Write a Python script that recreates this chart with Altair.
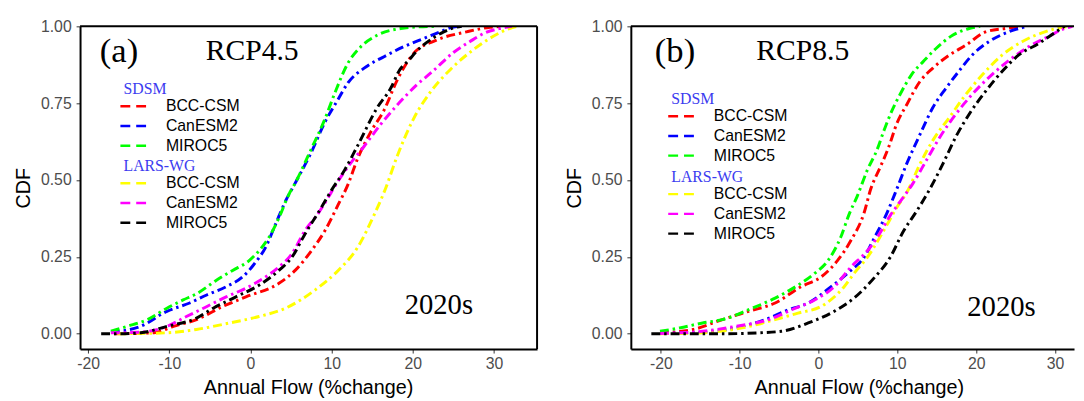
import altair as alt
import pandas as pd

MODELS = ["BCC-CSM", "CanESM2", "MIROC5"]
COLORS_SDSM = ["#FF0000", "#0000FF", "#00FF00"]
COLORS_LARS = ["#FFFF00", "#FF00FF", "#000000"]
X_TICKS = [-20, -10, 0, 10, 20, 30]
Y_TICKS = [0, 0.25, 0.5, 0.75, 1.0]

# ---------------- Panel (a) RCP4.5 ----------------
A_SDSM_BCC_X = [-16.8, -11.9, -9.5, -6.65, -3.4, -0.57, 3.5, 5.5, 7.5, 9.16, 10.8, 12.0, 13.2, 14.8, 16.5, 18.1, 20.1, 22.9, 26.6, 29.5, 31.0]
A_SDSM_BCC_Y = [0.0, 0.003, 0.024, 0.046, 0.089, 0.12, 0.164, 0.206, 0.27, 0.335, 0.42, 0.485, 0.57, 0.656, 0.73, 0.827, 0.912, 0.955, 0.982, 0.997, 1.0]
A_SDSM_CAN_X = [-17.2, -13.55, -10.3, -7.5, -5.4, -3.0, -0.97, 0.64, 1.86, 3.08, 4.3, 5.3, 7.5, 9.16, 10.8, 12.0, 14.0, 16.5, 18.9, 21.3, 22.9, 25.0, 26.0]
A_SDSM_CAN_Y = [0.005, 0.024, 0.073, 0.1, 0.126, 0.153, 0.185, 0.233, 0.281, 0.356, 0.431, 0.48, 0.591, 0.688, 0.763, 0.816, 0.864, 0.902, 0.934, 0.96, 0.977, 0.998, 1.0]
A_SDSM_MIR_X = [-17.2, -15.2, -12.7, -10.3, -8.3, -6.65, -4.2, -2.2, -0.17, 1.05, 2.26, 3.5, 4.7, 5.5, 7.5, 9.16, 10.4, 12.0, 13.6, 15.6, 18.5, 20.5, 23.0]
A_SDSM_MIR_Y = [0.008, 0.024, 0.046, 0.083, 0.11, 0.13, 0.174, 0.206, 0.238, 0.27, 0.313, 0.377, 0.452, 0.49, 0.602, 0.698, 0.784, 0.88, 0.934, 0.971, 0.993, 0.998, 1.0]
A_LARS_BCC_X = [-16.4, -10.3, -6.65, -2.6, 1.05, 4.3, 7.94, 10.8, 13.2, 15.2, 16.6, 18.1, 20.1, 22.1, 24.6, 27.4, 29.8, 31.9, 32.8]
A_LARS_BCC_Y = [0.0, 0.003, 0.014, 0.035, 0.056, 0.083, 0.142, 0.206, 0.281, 0.385, 0.47, 0.58, 0.70, 0.784, 0.859, 0.923, 0.966, 0.993, 1.0]
A_LARS_CAN_X = [-17.2, -13.55, -10.3, -7.9, -5.8, -3.0, -0.57, 1.86, 3.5, 5.1, 6.7, 8.3, 9.5, 10.4, 12.2, 14.0, 16.0, 18.1, 20.5, 22.5, 25.0, 27.0, 29.0, 30.7, 32.2]
A_LARS_CAN_Y = [0.003, 0.005, 0.024, 0.056, 0.083, 0.12, 0.148, 0.185, 0.217, 0.26, 0.335, 0.39, 0.44, 0.48, 0.55, 0.61, 0.68, 0.745, 0.81, 0.855, 0.915, 0.95, 0.98, 0.993, 1.0]
A_LARS_MIR_X = [-18.4, -16.4, -13.55, -10.3, -6.65, -4.6, -1.8, 1.05, 3.5, 5.1, 6.7, 8.6, 10.0, 11.6, 13.2, 15.6, 17.3, 18.3, 19.5, 20.5, 22.1, 23.8, 25.0, 26.0]
A_LARS_MIR_Y = [0.0, 0.0, 0.003, 0.024, 0.051, 0.083, 0.12, 0.158, 0.206, 0.249, 0.324, 0.405, 0.468, 0.533, 0.612, 0.735, 0.8, 0.855, 0.89, 0.92, 0.955, 0.982, 0.995, 1.0]

# ---------------- Panel (b) RCP8.5 ----------------
B_SDSM_BCC_X = [-20.1, -15.9, -12.2, -8.85, -5.5, -2.2, 0.34, 2.4, 4.1, 5.8, 6.6, 7.85, 8.9, 9.9, 11.2, 12.9, 14.5, 16.6, 18.7, 21.2, 23.7, 25.5]
B_SDSM_BCC_Y = [0.003, 0.014, 0.046, 0.073, 0.1, 0.153, 0.185, 0.238, 0.303, 0.395, 0.469, 0.543, 0.607, 0.682, 0.746, 0.822, 0.864, 0.907, 0.939, 0.982, 0.993, 1.0]
B_SDSM_CAN_X = [-20.1, -14.7, -10.5, -6.76, -3.8, -1.3, 1.6, 4.1, 5.8, 7.0, 8.7, 9.9, 11.2, 12.9, 14.5, 16.2, 17.8, 19.5, 21.6, 24.1, 25.7, 26.5]
B_SDSM_CAN_Y = [0.001, 0.005, 0.019, 0.046, 0.078, 0.1, 0.153, 0.206, 0.249, 0.308, 0.394, 0.469, 0.554, 0.65, 0.736, 0.8, 0.854, 0.907, 0.95, 0.982, 0.995, 1.0]
B_SDSM_MIR_X = [-20.1, -17.6, -14.7, -12.2, -8.4, -5.5, -2.6, -0.5, 1.2, 2.8, 3.9, 4.9, 6.2, 7.4, 8.3, 9.3, 10.35, 11.8, 13.3, 14.9, 17.0, 19.1, 20.5]
B_SDSM_MIR_Y = [0.008, 0.019, 0.035, 0.046, 0.083, 0.116, 0.158, 0.196, 0.238, 0.313, 0.39, 0.447, 0.533, 0.597, 0.661, 0.725, 0.779, 0.843, 0.886, 0.928, 0.971, 0.993, 1.0]
B_LARS_BCC_X = [-20.1, -14.7, -9.7, -5.5, -2.6, 0.34, 3.25, 4.5, 6.2, 8.7, 9.9, 11.2, 12.9, 14.5, 16.6, 18.7, 20.8, 23.3, 25.8, 28.7, 31.2, 32.0]
B_LARS_BCC_Y = [0.0, 0.003, 0.019, 0.046, 0.067, 0.089, 0.153, 0.196, 0.249, 0.355, 0.41, 0.46, 0.554, 0.629, 0.704, 0.779, 0.843, 0.907, 0.95, 0.982, 0.998, 1.0]
B_LARS_CAN_X = [-20.1, -14.7, -10.5, -6.3, -3.4, -0.5, 2.0, 4.1, 6.2, 7.6, 9.1, 10.35, 12.0, 13.7, 15.4, 17.4, 19.5, 22.0, 24.5, 27.0, 29.1, 31.2, 32.2]
B_LARS_CAN_Y = [0.001, 0.008, 0.024, 0.046, 0.078, 0.11, 0.153, 0.217, 0.27, 0.32, 0.385, 0.43, 0.49, 0.565, 0.64, 0.714, 0.779, 0.843, 0.896, 0.939, 0.966, 0.993, 1.0]
B_LARS_MIR_X = [-21.2, -17.6, -11.8, -7.6, -4.7, -1.3, 2.0, 4.5, 7.0, 9.1, 10.8, 12.4, 14.1, 15.8, 17.4, 19.1, 21.2, 23.3, 25.4, 27.9, 30.4, 31.2]
B_LARS_MIR_Y = [0.0, 0.0, 0.0, 0.003, 0.008, 0.035, 0.073, 0.116, 0.18, 0.249, 0.335, 0.397, 0.47, 0.554, 0.64, 0.714, 0.789, 0.854, 0.907, 0.944, 0.987, 1.0]

SANS = "Liberation Sans"
SERIF = "Liberation Serif"
NB = "\u00a0"


def curves_df(curves):
    rows = []
    for model, xs, ys in curves:
        for i, (x, y) in enumerate(zip(xs, ys)):
            rows.append({"model": model, "x": x, "cdf": y, "i": i})
    return pd.DataFrame(rows)


def panel(sdsm, lars, xdom, width, tag, rcp, ann, leg_x, leg_y_sdsm, leg_y_lars, right_frame):
    x_enc = alt.X(
        "x:Q",
        scale=alt.Scale(domain=xdom, nice=False, zero=False),
        axis=alt.Axis(
            values=X_TICKS,
            title="Annual Flow (%change)",
            labelExpr="datum.value < 0 ? '-' + abs(datum.value) : '' + datum.value",
            titleX=231,
        ),
    )
    y_enc = alt.Y(
        "cdf:Q",
        scale=alt.Scale(domain=[-0.05, 1.0], nice=False, zero=False),
        axis=alt.Axis(values=Y_TICKS, format=".2f", title="CDF"),
    )
    line_style = dict(strokeWidth=3, strokeDash=[9, 4, 2.5, 4], interpolate="monotone", clip=True)

    sd = alt.Chart(curves_df(sdsm)).mark_line(**line_style).encode(
        x=x_enc, y=y_enc, order="i:Q",
        color=alt.Color(
            "model:N",
            scale=alt.Scale(domain=MODELS, range=COLORS_SDSM),
            legend=alt.Legend(title=NB + NB + "SDSM", orient="none", legendX=leg_x, legendY=leg_y_sdsm),
        ),
    )
    lw = alt.Chart(curves_df(lars)).mark_line(**line_style).encode(
        x=x_enc, y=y_enc, order="i:Q",
        color=alt.Color(
            "model:N",
            scale=alt.Scale(domain=MODELS, range=COLORS_LARS),
            legend=alt.Legend(title=NB + "LARS-WG", orient="none", legendX=leg_x, legendY=leg_y_lars),
        ),
    )
    (tx, ty), (rx, ry), (dx, dy) = ann
    t_tag = alt.Chart(pd.DataFrame({"x": [tx], "cdf": [ty], "t": [tag]})).mark_text(
        font=SERIF, fontSize=35, align="center", baseline="middle", color="black"
    ).encode(x="x:Q", y="cdf:Q", text="t:N")
    t_rcp = alt.Chart(pd.DataFrame({"x": [rx], "cdf": [ry], "t": [rcp]})).mark_text(
        font=SERIF, fontSize=30, align="center", baseline="middle", color="black"
    ).encode(x="x:Q", y="cdf:Q", text="t:N")
    t_dec = alt.Chart(pd.DataFrame({"x": [dx], "cdf": [dy], "t": ["2020s"]})).mark_text(
        font=SERIF, fontSize=29, align="center", baseline="middle", color="black"
    ).encode(x="x:Q", y="cdf:Q", text="t:N")
    top = alt.Chart(pd.DataFrame({"k": [0]})).mark_rule(color="black", strokeWidth=2).encode(y=alt.datum(1.0))
    layers = [sd, lw, t_tag, t_rcp, t_dec, top]
    if right_frame:
        right = alt.Chart(pd.DataFrame({"k": [0]})).mark_rule(color="black", strokeWidth=2).encode(x=alt.datum(xdom[1]))
        layers.append(right)
    return alt.layer(*layers).resolve_scale(color="independent").properties(width=width, height=327)


panel_a = panel(
    [("BCC-CSM", A_SDSM_BCC_X, A_SDSM_BCC_Y), ("CanESM2", A_SDSM_CAN_X, A_SDSM_CAN_Y), ("MIROC5", A_SDSM_MIR_X, A_SDSM_MIR_Y)],
    [("BCC-CSM", A_LARS_BCC_X, A_LARS_BCC_Y), ("CanESM2", A_LARS_CAN_X, A_LARS_CAN_Y), ("MIROC5", A_LARS_MIR_X, A_LARS_MIR_Y)],
    [-21.0, 35.3], 463, "(a)", "RCP4.5",
    ((-16.2, 0.919), (0.2, 0.921), (23.2, 0.094)),
    44, 56, 134, True,
)
panel_b = panel(
    [("BCC-CSM", B_SDSM_BCC_X, B_SDSM_BCC_Y), ("CanESM2", B_SDSM_CAN_X, B_SDSM_CAN_Y), ("MIROC5", B_SDSM_MIR_X, B_SDSM_MIR_Y)],
    [("BCC-CSM", B_LARS_BCC_X, B_LARS_BCC_Y), ("CanESM2", B_LARS_CAN_X, B_LARS_CAN_Y), ("MIROC5", B_LARS_MIR_X, B_LARS_MIR_Y)],
    [-23.8, 32.4], 449, "(b)", "RCP8.5",
    ((-18.2, 0.919), (-2.0, 0.921), (23.2, 0.088)),
    41, 66, 145, False,
)

chart = (
    alt.hconcat(panel_a, panel_b, spacing=25)
    .resolve_scale(color="independent", x="independent", y="independent")
    .properties(padding={"left": 5, "top": 7, "right": 0, "bottom": 0})
    .configure_view(stroke="transparent")
    .configure_axis(
        labelFont=SANS, labelFontSize=16, labelColor="#4D4D4D", labelPadding=5,
        titleFont=SANS, titleFontSize=20, titleFontWeight="normal", titleColor="black",
        tickColor="#333333", tickSize=4, tickWidth=1,
        domainColor="black", domainWidth=2, grid=False,
    )
    .configure_axisY(titlePadding=7)
    .configure_axisX(titlePadding=6, labelPadding=3)
    .configure_legend(
        titleFont=SERIF, titleFontSize=16, titleFontWeight="normal", titleColor="#3C3CF0",
        labelFont=SANS, labelFontSize=16, labelColor="black",
        symbolType="M-1.5,0H1.5", symbolSize=306, symbolStrokeWidth=2.5, symbolDash=[10, 6],
        symbolFillColor="transparent",
        labelOffset=23, padding=0, rowPadding=2, titlePadding=-1,
    )
)

chart.save("out.html", embed_options={"renderer": "svg", "actions": False})
